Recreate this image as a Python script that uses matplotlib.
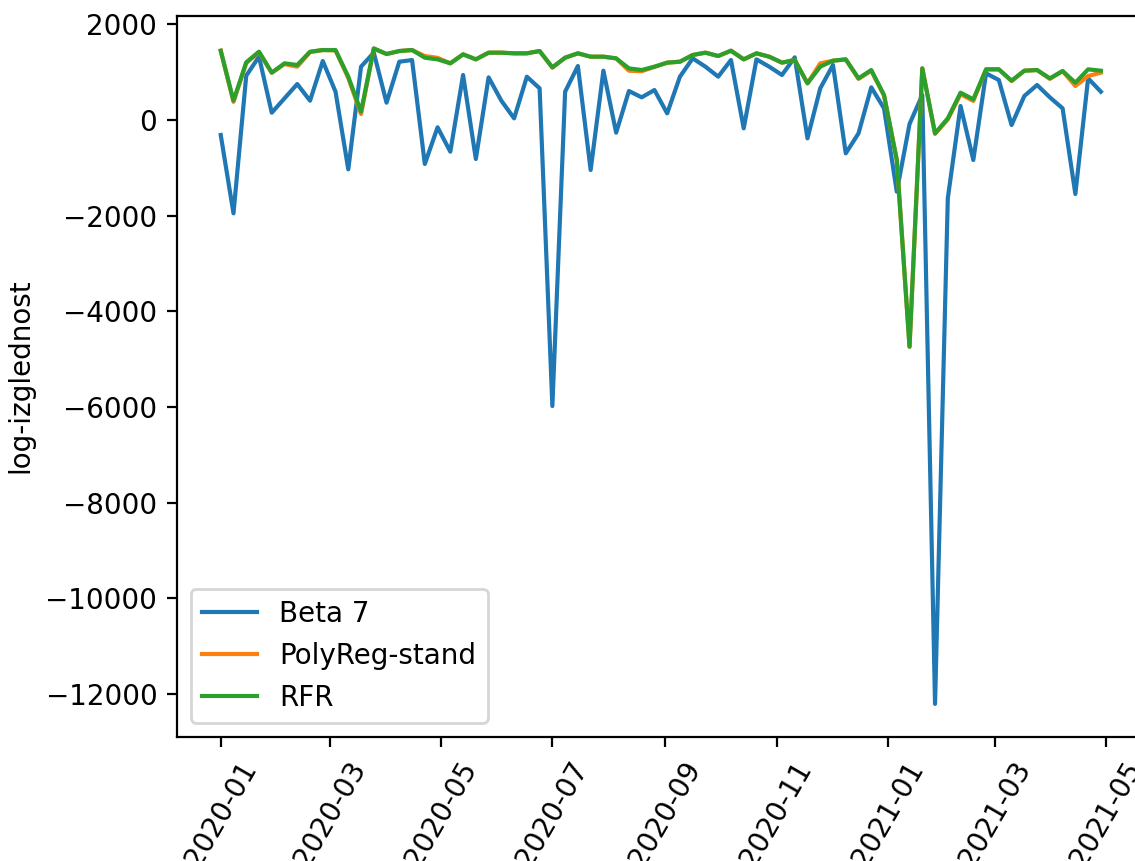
import matplotlib
matplotlib.use("Agg")
import matplotlib.pyplot as plt
import matplotlib.dates as mdates
import pandas as pd

# weekly evaluation dates
dates = pd.date_range("2020-01-01", periods=70, freq="7D")

beta7 = [
    -313, -1951, 927, 1324, 153, 453, 752, 404, 1233, 592,
    -1031, 1115, 1408, 362, 1219, 1254, -920, -153, -662, 941,
    -815, 892, 404, 35, 906, 662, -5980, 592, 1129, -1045,
    1031, -265, 606, 474, 627, 139, 906, 1289, 1115, 906,
    1254, -174, 1268, 1115, 941, 1310, -383, 662, 1150, -697,
    -279, 683, 244, -1498, -84, 523, -12208, -1637, 293, -836,
    976, 836, -105, 502, 732, 474, 244, -1547, 871, 592,
]

polyreg_stand = [
    1449, 380, 1190, 1420, 989, 1170, 1115, 1420, 1463, 1455,
    880, 125, 1490, 1380, 1442, 1463, 1338, 1300, 1185, 1373,
    1268, 1408, 1408, 1394, 1394, 1442, 1095, 1303, 1394, 1324,
    1324, 1289, 1031, 1020, 1110, 1199, 1219, 1359, 1408, 1338,
    1449, 1268, 1394, 1324, 1199, 1254, 767, 1185, 1240, 1268,
    860, 1030, 510, -830, -4740, 1080, -290, 10, 540, 400,
    1059, 1059, 815, 1031, 1045, 860, 1024, 711, 920, 989,
]

rfr = [
    1449, 404, 1206, 1428, 989, 1185, 1150, 1428, 1463, 1463,
    906, 174, 1498, 1380, 1442, 1463, 1303, 1268, 1185, 1373,
    1268, 1408, 1408, 1394, 1394, 1442, 1101, 1303, 1394, 1324,
    1324, 1289, 1080, 1045, 1115, 1199, 1219, 1359, 1408, 1338,
    1449, 1268, 1394, 1324, 1199, 1254, 767, 1115, 1240, 1268,
    871, 1045, 523, -836, -4740, 1080, -279, 35, 571, 432,
    1059, 1059, 822, 1031, 1045, 871, 1024, 780, 1059, 1031,
]

fig = plt.figure(figsize=(1135 / 200, 861 / 200), dpi=200)
ax = fig.add_axes([0.1557, 0.1444, 0.853, 0.8375])
ax.plot(dates, beta7, label="Beta 7")
ax.plot(dates, polyreg_stand, label="PolyReg-stand")
ax.plot(dates, rfr, label="RFR")
ax.set_ylabel("log-izglednost")
ax.xaxis.set_major_locator(mdates.MonthLocator(bymonth=[1, 3, 5, 7, 9, 11]))
ax.xaxis.set_major_formatter(mdates.DateFormatter("%Y-%m"))
plt.setp(ax.get_xticklabels(), rotation=60)
ax.legend(loc="lower left")
fig.savefig("out.png", dpi=200)
